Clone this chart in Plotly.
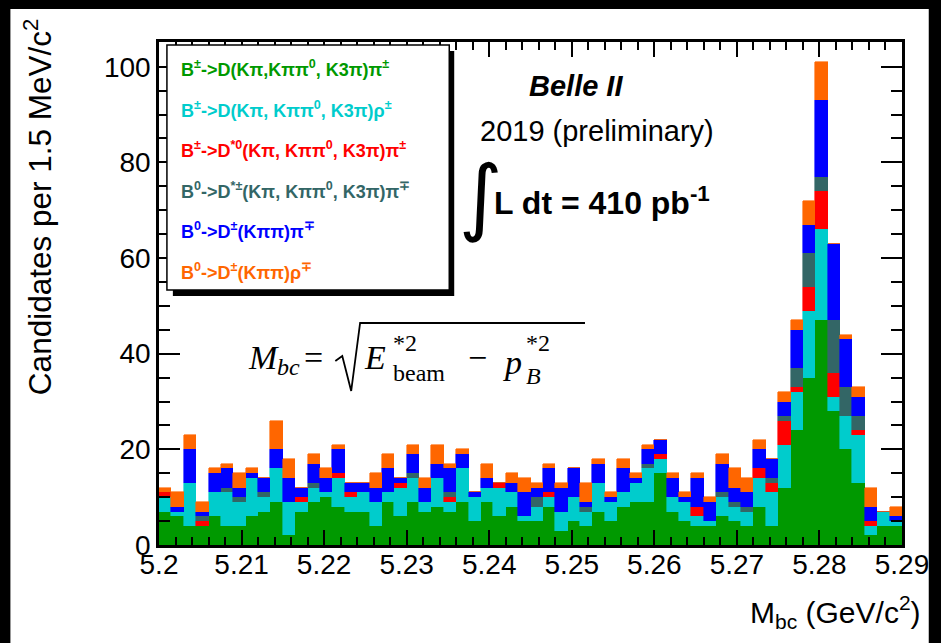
import numpy as np
import plotly.graph_objects as go

# ---------------- data ----------------
bin_low_edge = 5.20
bin_width = 0.0015
n_bins = 60

green_Dpi = [7, 6, 4, 4, 6, 4, 4, 6, 7, 9, 2, 7, 9, 10, 8, 7, 7, 4, 9, 6,
             9, 7, 8, 7, 9, 5, 9, 6, 8, 5, 5, 8, 3, 5, 4, 7, 5, 8, 9, 9,
             15, 7, 5, 4, 4, 6, 5, 4, 8, 4, 12, 24, 35, 47, 28, 20, 13, 2, 4, 4]
cyan_Drho = [3, 1, 9, 0, 5, 7, 5, 8, 3, 7, 7, 2, 3, 1, 6, 3, 4, 5, 2, 6,
             5, 2, 6, 2, 7, 5, 3, 6, 3, 1, 3, 2, 4, 5, 3, 6, 4, 3, 4, 7,
             3, 3, 4, 2, 1, 4, 3, 3, 6, 7, 9, 8, 14, 19, 3, 7, 10, 2, 3, 1]
red_Dst0pi = [1, 0, 0, 1, 0, 0, 0, 0, 0, 0, 0, 1, 0, 0, 1, 1, 0, 0, 0, 1,
              0, 0, 0, 1, 0, 0, 0, 1, 0, 0, 0, 1, 0, 0, 0, 0, 0, 0, 0, 0,
              1, 0, 0, 2, 0, 0, 0, 0, 2, 2, 5, 1, 5, 8, 5, 0, 1, 1, 0, 0]
slate_Dstpi = [0, 0, 0, 1, 0, 1, 1, 0, 1, 0, 0, 0, 1, 0, 0, 0, 0, 0, 0, 0,
               1, 0, 0, 1, 0, 0, 0, 0, 0, 0, 2, 0, 0, 0, 1, 0, 0, 0, 0, 1,
               0, 0, 0, 0, 0, 1, 1, 1, 0, 1, 1, 4, 7, 3, 11, 6, 3, 0, 0, 0]
blue_Dpmpi = [0, 1, 7, 1, 4, 4, 2, 1, 3, 4, 5, 2, 4, 3, 5, 2, 2, 3, 5, 1,
              4, 3, 3, 5, 3, 1, 2, 0, 2, 5, 2, 5, 5, 6, 1, 4, 1, 5, 1, 3,
              3, 4, 1, 6, 4, 6, 3, 3, 4, 4, 3, 8, 6, 16, 16, 10, 4, 3, 0, 1]
orange_Dpmrho = [1, 3, 3, 2, 1, 1, 3, 1, 0, 6, 4, 0, 2, 2, 1, 0, 0, 3, 3, 0,
                 2, 2, 4, 1, 1, 0, 3, 0, 2, 3, 1, 1, 1, 0, 4, 1, 1, 2, 1, 1,
                 0, 1, 1, 1, 1, 2, 4, 3, 2, 0, 2, 2, 5, 8, 0, 1, 2, 4, 0, 2]

series_names = [
    "B<sup>±</sup>->D(Kπ,Kππ<sup>0</sup>, K3π)π<sup>±</sup>",
    "B<sup>±</sup>->D(Kπ, Kππ<sup>0</sup>, K3π)ρ<sup>±</sup>",
    "B<sup>±</sup>->D<sup>*0</sup>(Kπ, Kππ<sup>0</sup>, K3π)π<sup>±</sup>",
    "B<sup>0</sup>->D<sup>*±</sup>(Kπ, Kππ<sup>0</sup>, K3π)π<sup>∓</sup>",
    "B<sup>0</sup>->D<sup>±</sup>(Kππ)π<sup>∓</sup>",
    "B<sup>0</sup>->D<sup>±</sup>(Kππ)ρ<sup>∓</sup>",
]
series_colors = ["#009900", "#00CCCC", "#FF0000", "#336666", "#0000FF", "#FF6600"]
series_values = [green_Dpi, cyan_Drho, red_Dst0pi, slate_Dstpi, blue_Dpmpi, orange_Dpmrho]

x_tick_vals = [5.20, 5.21, 5.22, 5.23, 5.24, 5.25, 5.26, 5.27, 5.28, 5.29]
x_tick_text = ["5.2", "5.21", "5.22", "5.23", "5.24", "5.25", "5.26", "5.27", "5.28", "5.29"]
y_tick_vals = [0, 20, 40, 60, 80, 100]

# ---------------- layout geometry (pixels) ----------------
W_PX, H_PX = 941, 643
L, R, T, B = 159, 909, 42, 545
PW, PH = R - L, B - T
Y_MAX = PH / 4.783


def xp(px):
    return (px - L) / PW


def yp(py):
    return (B - py) / PH


centers = bin_low_edge + bin_width * (np.arange(n_bins) + 0.5)

fig = go.Figure()
for name, col, vals in zip(series_names, series_colors, series_values):
    fig.add_trace(go.Bar(x=centers, y=vals, width=bin_width, name=name,
                         marker=dict(color=col, line=dict(width=0.6, color=col)),
                         showlegend=False, hoverinfo="skip"))

SANS = "Liberation Sans, Arial, Helvetica, sans-serif"
SERIF = "Liberation Serif, Times New Roman, serif"

axis_common = dict(showline=True, linecolor="black", linewidth=2.5, mirror="allticks",
                   ticks="inside", tickcolor="black", tickwidth=2, showgrid=False,
                   zeroline=False, tickfont=dict(family=SANS, size=28, color="black"))

fig.update_layout(
    width=W_PX, height=H_PX,
    margin=dict(l=L, r=W_PX - R, t=T, b=H_PX - B, pad=0),
    paper_bgcolor="black", plot_bgcolor="white",
    barmode="stack", bargap=0,
    xaxis=dict(range=[5.2, 5.29], tickvals=x_tick_vals, ticktext=x_tick_text, ticklen=15,
               ticklabelstandoff=-7,
               minor=dict(dtick=0.002, tick0=5.2, ticklen=8, ticks="inside", tickcolor="black", tickwidth=2),
               **axis_common),
    yaxis=dict(range=[0, Y_MAX], tickvals=y_tick_vals, ticklen=21,
               minor=dict(dtick=5, tick0=0, ticklen=11, ticks="inside", tickcolor="black", tickwidth=2),
               **axis_common),
)

shapes = []
# white canvas inside the black border
shapes.append(dict(type="rect", xref="paper", yref="paper", layer="below",
                   x0=xp(9), x1=xp(936), y0=yp(9), y1=yp(H_PX + 5),
                   fillcolor="white", line=dict(width=0)))
# legend shadow and box
shapes.append(dict(type="rect", xref="paper", yref="paper",
                   x0=xp(173), x1=xp(457), y0=yp(51), y1=yp(296),
                   fillcolor="black", line=dict(width=0)))
shapes.append(dict(type="rect", xref="paper", yref="paper",
                   x0=xp(167), x1=xp(452), y0=yp(45), y1=yp(290),
                   fillcolor="white", line=dict(color="black", width=1.5)))
# radical sign of the formula
pts = [(337, 361), (344, 356), (353, 391), (362, 323), (589, 323)]
path = "M " + " L ".join(f"{xp(a):.5f},{yp(b):.5f}" for a, b in pts)
shapes.append(dict(type="path", xref="paper", yref="paper", path=path,
                   line=dict(color="black", width=1.8)))
fig.update_layout(shapes=shapes)

ann = []


def add_text(text, px, py, size, family=SANS, color="black", xanchor="left",
             yanchor="middle", angle=0):
    ann.append(dict(text=text, x=xp(px), y=yp(py), xref="paper", yref="paper",
                    xanchor=xanchor, yanchor=yanchor, showarrow=False, textangle=angle,
                    font=dict(family=family, size=size, color=color)))


# legend entries
leg_y = [68, 109, 149, 190, 230, 271]
for name, col, y in zip(series_names, series_colors, leg_y):
    add_text(f"<b>{name}</b>", 179, y, 18, color=col)

# axis titles
add_text("Candidates per 1.5 MeV/c<sup>2</sup>", 37, 207, 31.5, angle=-90, xanchor="center")
add_text("M<sub>bc</sub> (GeV/c<sup>2</sup>)", 930, 612, 30, xanchor="right")

# labels
add_text("<b><i>Belle II</i></b>", 530, 86, 29)
add_text("2019 (preliminary)", 481, 131, 29)
add_text("∫", 484, 196, 84, family="DejaVu Sans", xanchor="center")
add_text("<b>L dt = 410 pb<sup>-1</sup></b>", 495, 201, 32)

# formula M_bc = sqrt(E*^2_beam - p*^2_B)
add_text("<i>M</i>", 247, 357, 34, family=SERIF)
add_text("<i>bc</i>", 276, 367, 24, family=SERIF)
add_text("=", 303, 357, 34, family=SERIF)
add_text("<i>E</i>", 364, 357, 34, family=SERIF)
add_text("*2", 393, 343, 24, family=SERIF)
add_text("beam", 393, 373, 24, family=SERIF)
add_text("−", 469, 357, 34, family=SERIF)
add_text("<i>p</i>", 504, 362, 34, family=SERIF)
add_text("*2", 527, 343, 24, family=SERIF)
add_text("<i>B</i>", 527, 376, 24, family=SERIF)

fig.update_layout(annotations=ann)

fig.write_html("out.html", config={"displayModeBar": False},
               post_script="document.body.style.margin='0';document.body.style.overflow='hidden';")
